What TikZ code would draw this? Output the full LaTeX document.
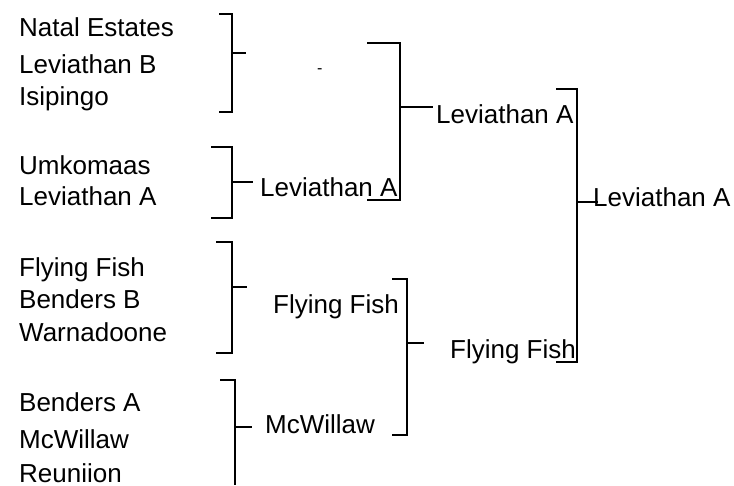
\documentclass[tikz,border=0pt]{standalone}
\usepackage{fontspec}
\setmainfont{Liberation Sans}
\begin{document}
\begin{tikzpicture}[x=1pt,y=-1pt,
  lbl/.style={anchor=base west,inner sep=0pt,font=\fontsize{26}{30}\selectfont},
  dashlbl/.style={anchor=base west,inner sep=0pt,font=\fontsize{16}{20}\selectfont},
  brk/.style={line width=2pt,line cap=rect}]
\useasboundingbox (0,0) rectangle (734,485);
% left column
\node[lbl] (t1) at (19,36.7) {Natal Estates};
\node[lbl] (t2) at (19,73.3) {Leviathan B};
\node[lbl] (t3) at (19,105) {Isipingo};
\node[lbl] (t4) at (19,174.3) {Umkomaas};
\node[lbl] (t5) at (19,205.7) {Leviathan A};
\node[lbl] (t6) at (19,276.7) {Flying Fish};
\node[lbl] (t7) at (19,308.3) {Benders B};
\node[lbl] (t8) at (19,341) {Warnadoone};
\node[lbl] (t9) at (19,411.7) {Benders A};
\node[lbl] (t10) at (19,448.3) {McWillaw};
\node[lbl] (t11) at (19,482.5) {Reuniion};
% round 2
\node[dashlbl] (r1) at (317,73) {-};
\node[lbl] (r2) at (260,196.7) {Leviathan A};
\node[lbl] (r3) at (273,313) {Flying Fish};
\node[lbl] (r4) at (265,433) {McWillaw};
% round 3
\node[lbl] (s1) at (436,123.3) {Leviathan A};
\node[lbl] (s2) at (450,358.3) {Flying Fish};
% final
\node[lbl] (f1) at (593,206) {Leviathan A};
% brackets
\coordinate (b1t) at (220,14);   \coordinate (b1b) at (220,112);
\coordinate (b1m) at (232,53.3); \coordinate (b1e) at (245,53.3);
\draw[brk] (b1t) -- (232,14) -- (232,112) -- (b1b);
\draw[brk] (b1m) -- (b1e);
\coordinate (b2t) at (368,43.3); \coordinate (b2b) at (368,200);
\coordinate (b2m) at (400,107.3); \coordinate (b2e) at (431.7,107.3);
\draw[brk] (b2t) -- (400,43.3) -- (400,200) -- (b2b);
\draw[brk] (b2m) -- (b2e);
\coordinate (b3t) at (211.7,146.7); \coordinate (b3b) at (211.7,218);
\coordinate (b3m) at (232,181.7); \coordinate (b3e) at (251.7,181.7);
\draw[brk] (b3t) -- (232,146.7) -- (232,218) -- (b3b);
\draw[brk] (b3m) -- (b3e);
\coordinate (b4t) at (216.7,241.7); \coordinate (b4b) at (216.7,353.3);
\coordinate (b4m) at (231.7,287.3); \coordinate (b4e) at (246,287.3);
\draw[brk] (b4t) -- (231.7,241.7) -- (231.7,353.3) -- (b4b);
\draw[brk] (b4m) -- (b4e);
\coordinate (b5t) at (220,380); \coordinate (b5b) at (235,485);
\coordinate (b5m) at (235,426.7); \coordinate (b5e) at (250.7,426.7);
\draw[brk,line cap=butt] (b5t) -- (235,380) -- (b5b);
\draw[brk] (b5m) -- (b5e);
\coordinate (b6t) at (392.7,279.3); \coordinate (b6b) at (392.7,435);
\coordinate (b6m) at (407.3,343.3); \coordinate (b6e) at (423.3,343.3);
\draw[brk] (b6t) -- (407.3,279.3) -- (407.3,435) -- (b6b);
\draw[brk] (b6m) -- (b6e);
\coordinate (b7t) at (557.3,89.3); \coordinate (b7b) at (557.3,361.7);
\coordinate (b7m) at (577.3,201.7); \coordinate (b7e) at (596.7,201.7);
\draw[brk] (b7t) -- (577.3,89.3) -- (577.3,361.7) -- (b7b);
\draw[brk] (b7m) -- (b7e);
\end{tikzpicture}
\end{document}
